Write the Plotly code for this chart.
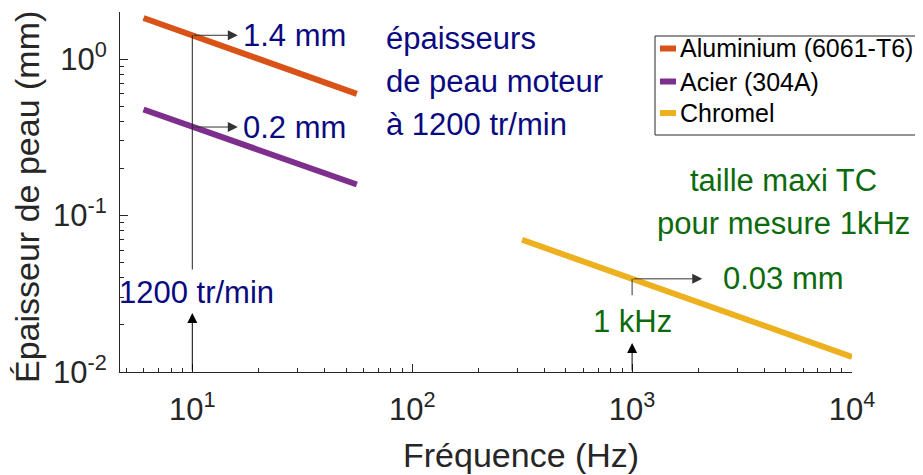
import numpy as np
import plotly.graph_objects as go

# ---------------- data ----------------
series_names = ["Aluminium (6061-T6)", "Acier (304A)", "Chromel"]
series_colors = ["#D95319", "#7E2F8E", "#EDB120"]

freq_al = [6, 10, 56]
ep_al = [1.83, 1.42, 0.60]

freq_acier = [6, 10, 56]
ep_acier = [0.476, 0.368, 0.158]

freq_chromel = [316, 1000, 10000]
ep_chromel = [0.0700, 0.0394, 0.0125]

x_tickvals = [10, 100, 1000, 10000]
x_ticktext = ["10<sup>1</sup>", "10<sup>2</sup>", "10<sup>3</sup>", "10<sup>4</sup>"]
y_tickvals = [0.01, 0.1, 1]
y_ticktext = ["10<sup>-2</sup>", "10<sup>-1</sup>", "10<sup>0</sup>"]

x_range = [4.69, 10000]
y_range = [0.01, 2.0]

# annotation anchors (data values)
f_moteur = 10        # Hz, 1200 tr/min
f_tc = 1000          # Hz
ep_al_10 = 1.42
ep_acier_10 = 0.368
ep_chromel_1k = 0.0394

# ---------------- figure ----------------
OFF = 8  # page body margin of the html page
W, H = 923 - OFF, 475 - OFF
L, R, T, B = 120, 852, 12, 372   # plot area in page pixels
BLUE = "#0A0A80"
GREEN = "#0B6B0B"
AX = "#262626"
FONT = "Liberation Sans, Arial, Helvetica, sans-serif"

def pxx(x):
    return (x - L) / (R - L)

def pxy(y):
    return (B - y) / (B - T)

lg = np.log10

fig = go.Figure()
for f, e, c, n in zip([freq_al, freq_acier, freq_chromel],
                      [ep_al, ep_acier, ep_chromel],
                      series_colors, series_names):
    fig.add_trace(go.Scatter(x=f, y=e, mode="lines", name=n,
                             line=dict(color=c, width=6), showlegend=False,
                             hoverinfo="skip"))

fig.update_layout(
    width=W, height=H,
    margin=dict(l=L - OFF, r=923 - R, t=T - OFF, b=475 - B, pad=0,
                autoexpand=False),
    paper_bgcolor="white", plot_bgcolor="white",
    font=dict(family=FONT, size=31, color=AX),
    showlegend=False,
)

common = dict(type="log", showgrid=False, zeroline=False, showline=True,
              linecolor=AX, linewidth=1, ticks="inside", ticklen=8,
              tickcolor=AX, tickwidth=1, tickmode="array", automargin=False,
              tickfont=dict(family=FONT, size=31, color=AX),
              minor=dict(ticks="inside", ticklen=4, tickcolor=AX,
                         tickwidth=1, dtick="D1", showgrid=False))

fig.update_xaxes(range=[lg(x_range[0]), lg(x_range[1])], tickvals=x_tickvals,
                 ticktext=x_ticktext, ticklabelstandoff=10, **common)
fig.update_yaxes(range=[lg(y_range[0]), lg(y_range[1])], tickvals=y_tickvals,
                 ticktext=y_ticktext, ticklabelstandoff=6, **common)

ann = []

def arrow(x_head, y_head, x_tail, y_tail, head=True, color="black"):
    ann.append(dict(x=lg(x_head), y=lg(y_head), ax=lg(x_tail), ay=lg(y_tail),
                    xref="x", yref="y", axref="x", ayref="y", text="",
                    showarrow=True, arrowhead=2 if head else 0,
                    arrowsize=2, arrowwidth=1, arrowcolor=color,
                    standoff=0, startstandoff=0))

def text(x, y, s, color, size=31, xanchor="left", ref="data"):
    if ref == "data":
        ann.append(dict(x=lg(x), y=lg(y), xref="x", yref="y", text=s,
                        showarrow=False, xanchor=xanchor, yanchor="middle",
                        font=dict(family=FONT, size=size, color=color)))
    else:
        ann.append(dict(x=pxx(x), y=pxy(y), xref="paper", yref="paper", text=s,
                        showarrow=False, xanchor=xanchor, yanchor="middle",
                        font=dict(family=FONT, size=size, color=color)))

# blue annotations (1200 tr/min)
arrow(f_moteur, 0.0238, f_moteur, y_range[0])
arrow(f_moteur, ep_al_10, f_moteur, 0.0442, head=False, color="#222")
arrow(16.1, ep_al_10, f_moteur, ep_al_10, color="#333")
arrow(16.1, ep_acier_10, f_moteur, ep_acier_10, color="#333")
text(16.6, ep_al_10, "1.4 mm", BLUE)
text(16.6, ep_acier_10, "0.2 mm", BLUE)
text(10.5, 0.0323, "1200 tr/min", BLUE, xanchor="center")

# green annotations (1 kHz)
arrow(f_tc, 0.0153, f_tc, y_range[0])
arrow(f_tc, ep_chromel_1k, f_tc, 0.0303, head=False, color="#333")
arrow(2085, ep_chromel_1k, f_tc, ep_chromel_1k, color="#333")
text(2530, ep_chromel_1k, "0.03 mm", GREEN)
text(f_tc, 0.0209, "1 kHz", GREEN, xanchor="center")

# free texts (page pixel positions)
text(384, 39, "épaisseurs", BLUE, ref="paper")
text(384, 81, "de peau moteur", BLUE, ref="paper")
text(384, 124, "à 1200 tr/min", BLUE, ref="paper")
text(783, 180, "taille maxi TC", GREEN, xanchor="center", ref="paper")
text(783, 223, "pour mesure 1kHz", GREEN, xanchor="center", ref="paper")

# axis titles
ann.append(dict(x=pxx(521), y=pxy(455), xref="paper", yref="paper",
                text="Fréquence (Hz)", showarrow=False, xanchor="center",
                yanchor="middle", font=dict(family=FONT, size=34, color=AX)))
ann.append(dict(x=pxx(27), y=pxy(197), xref="paper", yref="paper",
                text="Épaisseur de peau (mm)", showarrow=False, textangle=-90,
                xanchor="center", yanchor="middle",
                font=dict(family=FONT, size=34, color=AX)))

# legend (custom box)
shapes = [dict(type="rect", xref="paper", yref="paper",
               x0=pxx(655), x1=pxx(921), y0=pxy(36), y1=pxy(135),
               line=dict(color=AX, width=1), fillcolor="white", layer="above")]
leg_y = [48.5, 81.5, 113]
for yy, c, n in zip(leg_y, series_colors, series_names):
    shapes.append(dict(type="line", xref="paper", yref="paper",
                       x0=pxx(660), x1=pxx(676), y0=pxy(yy), y1=pxy(yy),
                       line=dict(color=c, width=6), layer="above"))
    ann.append(dict(x=pxx(678), y=pxy(yy), xref="paper", yref="paper", text=n,
                    showarrow=False, xanchor="left", yanchor="middle",
                    font=dict(family=FONT, size=25, color="black")))

fig.update_layout(annotations=ann, shapes=shapes)
fig.write_html("out.html")
